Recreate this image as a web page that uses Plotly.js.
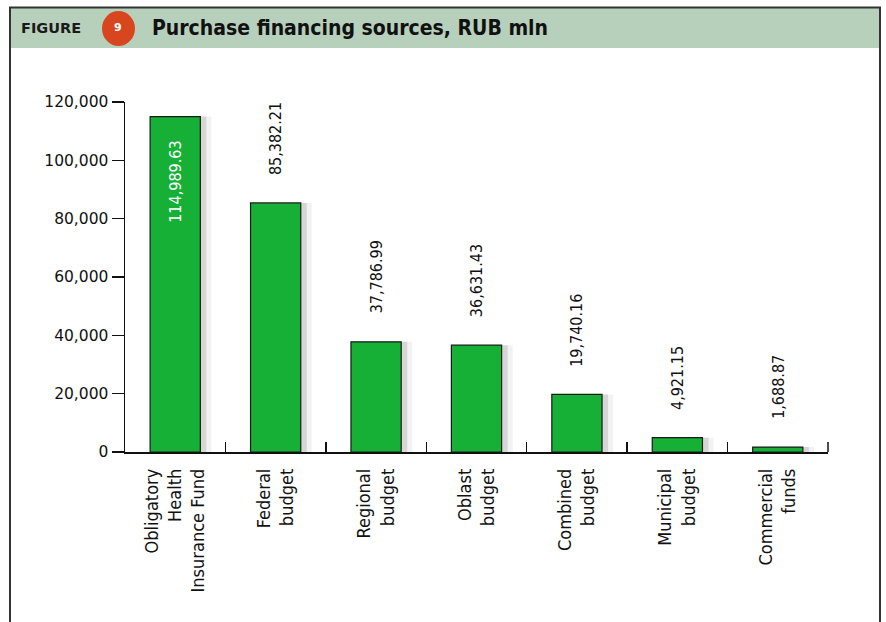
<!DOCTYPE html>
<html><head><meta charset="utf-8">
<script src="https://cdn.plot.ly/plotly-3.0.1.min.js"></script>
<style>html,body{margin:0;padding:0;background:#fff;}#chart{width:886px;height:622px;}</style>
</head><body><div id="chart"></div>
<script>
const categories = ["Obligatory<br>Health<br>Insurance Fund","Federal<br>budget","Regional<br>budget","Oblast<br>budget","Combined<br>budget","Municipal<br>budget","Commercial<br>funds"];
const values = [114989.63, 85382.21, 37786.99, 36631.43, 19740.16, 4921.15, 1688.87];
const yTicks = [0, 20000, 40000, 60000, 80000, 100000, 120000];

const fmt = v => v.toLocaleString('en-US', {minimumFractionDigits: 2, maximumFractionDigits: 2});

const shadowA = {
  type: 'bar', x: categories, y: values, width: 0.5, offset: -0.14,
  marker: {color: 'rgba(150,150,150,0.12)', line: {width: 0}},
  hoverinfo: 'skip', showlegend: false
};
const shadowB = {
  type: 'bar', x: categories, y: values, width: 0.5, offset: -0.19,
  marker: {color: 'rgba(130,130,130,0.25)', line: {width: 0}},
  hoverinfo: 'skip', showlegend: false
};
const bars = {
  type: 'bar', x: categories, y: values, width: 0.5,
  marker: {color: '#15b035', line: {color: '#1a1a1a', width: 1.2}},
  showlegend: false
};

const labelFont = {family: 'DejaVu Sans Condensed, DejaVu Sans', size: 16, color: '#111'};
const annotations = values.map((v, i) => i === 0 ? {
  x: categories[i], y: v, xref: 'x', yref: 'y', text: fmt(v), showarrow: false, textangle: -90,
  yanchor: 'top', yshift: -22, font: Object.assign({}, labelFont, {color: '#ffffff'})
} : {
  x: categories[i], y: v, xref: 'x', yref: 'y', text: fmt(v), showarrow: false, textangle: -90,
  yanchor: 'bottom', yshift: 26, font: labelFont
});

// header
annotations.push({xref: 'paper', yref: 'paper', x: -0.151, y: 1.2128, xanchor: 'left', yanchor: 'middle',
  text: '<b>FIGURE</b>', showarrow: false, font: {family: 'DejaVu Sans', size: 14.5, color: '#1a1a1a'}});
annotations.push({xref: 'paper', yref: 'paper', x: -0.0100, y: 1.2128, xanchor: 'center', yanchor: 'middle',
  text: '<b>9</b>', showarrow: false, font: {family: 'DejaVu Sans', size: 11, color: '#ffffff'}});
annotations.push({xref: 'paper', yref: 'paper', x: 0.0355, y: 1.2128, xanchor: 'left', yanchor: 'middle',
  text: '<b>Purchase financing sources, RUB mln</b>', showarrow: false,
  font: {family: 'DejaVu Sans Condensed, DejaVu Sans', size: 21, color: '#111'}});

const px = X => (X - 125) / 703;
const py = Y => (452 - Y) / 350;
const shapes = [
  {type: 'rect', xref: 'paper', yref: 'paper', x0: px(10), x1: px(880), y0: py(48), y1: py(8),
   fillcolor: '#b7d0bb', line: {width: 0}, layer: 'below'},
  {type: 'line', xref: 'paper', yref: 'paper', x0: px(9), x1: px(881), y0: py(7.5), y1: py(7.5),
   line: {color: '#333', width: 2}},
  {type: 'line', xref: 'paper', yref: 'paper', x0: px(10), x1: px(10), y0: py(7), y1: py(622),
   line: {color: '#333', width: 2}},
  {type: 'line', xref: 'paper', yref: 'paper', x0: px(880), x1: px(880), y0: py(7), y1: py(622),
   line: {color: '#333', width: 2}},
  {type: 'circle', xref: 'paper', yref: 'paper', x0: px(102), x1: px(135), y0: py(46), y1: py(11),
   fillcolor: '#d8461f', line: {width: 0}},
  // closing boundary tick at the end of the x axis
  {type: 'line', xref: 'paper', yref: 'paper', x0: 1, x1: 1, y0: 0, y1: 10 / 350,
   line: {color: '#111', width: 1.5}}
];

const layout = {
  width: 886, height: 622,
  margin: {l: 125, r: 58, t: 102, b: 170},
  paper_bgcolor: '#ffffff', plot_bgcolor: '#ffffff',
  barmode: 'overlay',
  xaxis: {
    type: 'category', range: [-0.5, 6.5], tickangle: -90,
    showline: true, linecolor: '#111', linewidth: 1.5,
    ticks: 'inside', tickson: 'boundaries', ticklen: 10, tickwidth: 1.5, tickcolor: '#111',
    showgrid: false, zeroline: false, ticklabelstandoff: 8,
    tickfont: {family: 'DejaVu Sans Condensed, DejaVu Sans', size: 18, color: '#111'}
  },
  yaxis: {
    range: [0, 120000], tickvals: yTicks, tickformat: ',d',
    showline: true, linecolor: '#111', linewidth: 1.5,
    ticks: 'outside', ticklen: 12, tickwidth: 1.5, tickcolor: '#111',
    showgrid: false, zeroline: false,
    tickfont: {family: 'DejaVu Sans', size: 15.5, color: '#111'}
  },
  annotations: annotations,
  shapes: shapes
};
Plotly.newPlot('chart', [shadowA, shadowB, bars], layout, {displayModeBar: false, staticPlot: true});
</script></body></html>
